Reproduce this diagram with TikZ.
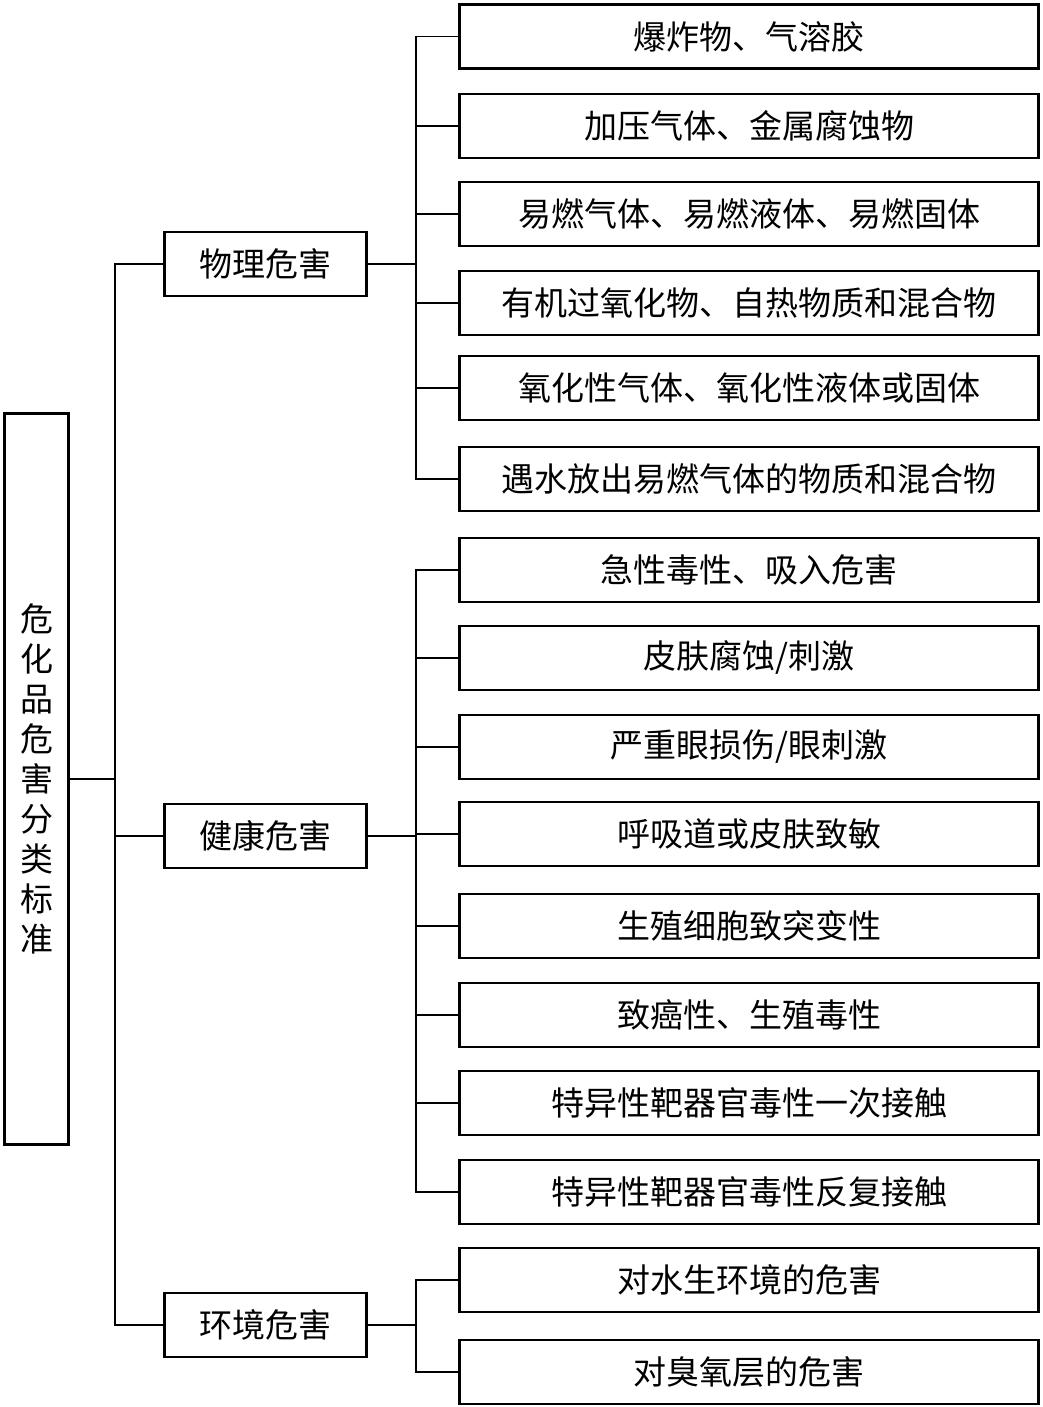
\documentclass[tikz,border=0pt]{standalone}
\usepackage{fontspec}
\newfontfamily\cjk{Noto Sans CJK SC}
\usepackage{tikz}
\usetikzlibrary{positioning}

\begin{document}
\begin{tikzpicture}[x=1pt, y=-1pt,
    box/.style={draw, line width=2.8pt, inner sep=0pt, font=\cjk\fontsize{33}{40}\selectfont},
    rootbox/.style={box, minimum width=64pt, minimum height=731pt, align=center},
    midbox/.style={box, minimum width=202pt, minimum height=64pt},
    leafbox/.style={box, minimum width=579pt, minimum height=64pt},
    link/.style={line width=1.3pt}]
  \useasboundingbox (0,0) rectangle (1043,1407);

  % root
  \node[rootbox] (root) at (36.5,779) {危\\化\\品\\危\\害\\分\\类\\标\\准};

  % second level
  \node[midbox] (phys) at (265.5,264) {物理危害};
  \node[midbox] (heal) at (265.5,836) {健康危害};
  \node[midbox] (env)  at (265.5,1325) {环境危害};

  % leaves
  \foreach \name/\ypos/\txt in {
      p1/36.5/{爆炸物、气溶胶},
      p2/126/{加压气体、金属腐蚀物},
      p3/214/{易燃气体、易燃液体、易燃固体},
      p4/303/{有机过氧化物、自热物质和混合物},
      p5/388/{氧化性气体、氧化性液体或固体},
      p6/479/{遇水放出易燃气体的物质和混合物},
      h1/570/{急性毒性、吸入危害},
      h2/658/{皮肤腐蚀/刺激},
      h3/747/{严重眼损伤/眼刺激},
      h4/834/{呼吸道或皮肤致敏},
      h5/926/{生殖细胞致突变性},
      h6/1015/{致癌性、生殖毒性},
      h7/1103/{特异性靶器官毒性一次接触},
      h8/1192/{特异性靶器官毒性反复接触},
      e1/1280/{对水生环境的危害},
      e2/1372/{对臭氧层的危害}}
    \node[leafbox] (\name) at (749,\ypos) {\txt};

  % connectors: root to second level
  \draw[link] (root.east) -- ++(45,0);
  \draw[link] (phys.west) -- ++(-48,0) |- (env.west);
  \draw[link] (heal.west) -- ++(-48,0);

  % connectors: second level to leaves
  \draw[link] (phys.east) -- ++(48,0);
  \draw[link] (heal.east) -- ++(48,0);
  \draw[link] (env.east) -- ++(48,0);
  \draw[link] (p1.west) -- ++(-42,0) |- (p6.west);
  \draw[link] (h1.west) -- ++(-42,0) |- (h8.west);
  \draw[link] (e1.west) -- ++(-42,0) |- (e2.west);
  \foreach \name in {p2,p3,p4,p5,h2,h3,h4,h5,h6,h7}
    \draw[link] (\name.west) -- ++(-42,0);
\end{tikzpicture}
\end{document}
